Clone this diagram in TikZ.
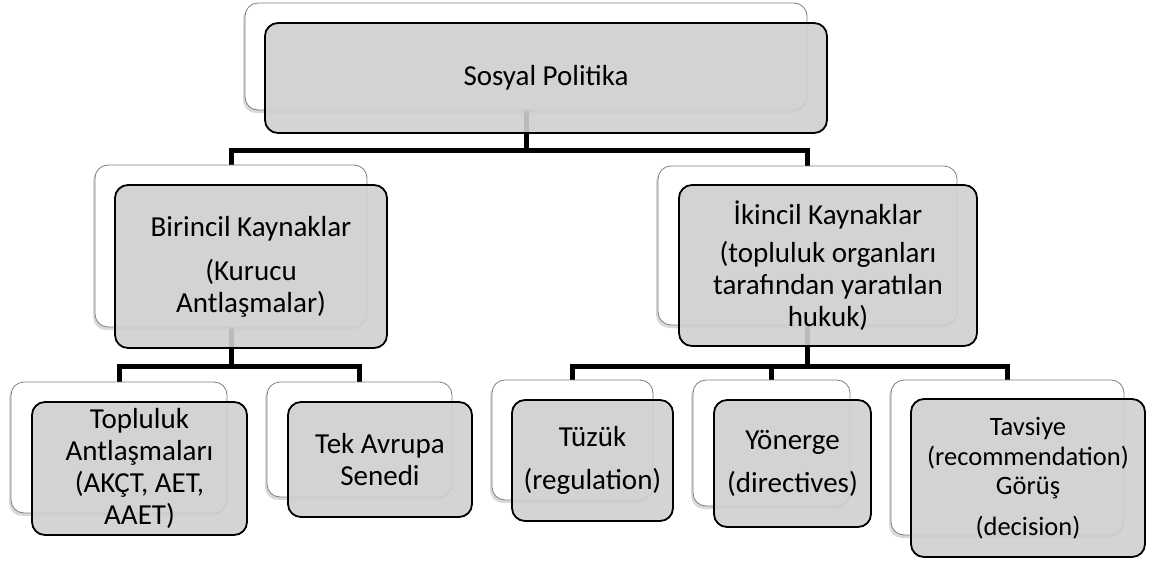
\documentclass[tikz,border=0pt]{standalone}
\usepackage{fontspec}
\setmainfont{Carlito}
\usetikzlibrary{positioning,shadows,backgrounds}
\definecolor{boxgray}{RGB}{207,207,207}
\definecolor{backline}{RGB}{125,125,125}

\begin{document}
\begin{tikzpicture}[
  x=1pt, y=-1pt,
  backbox/.style={draw=backline, line width=0.8pt, fill=white, rounded corners=13pt, inner sep=0pt,
    drop shadow={shadow xshift=-2pt, shadow yshift=-3pt, opacity=0.3}},
  frontbox/.style={draw=black, line width=1.8pt, fill=boxgray, fill opacity=0.9, text opacity=1,
    rounded corners=13pt, align=center, inner sep=0pt, font=\fontsize{29}{32}\selectfont},
  conn/.style={line width=5pt}
]
  \useasboundingbox (0,0) rectangle (1159,560);

  % Top level
  \node[backbox, minimum width=562pt, minimum height=107pt] (spb) at (526,56.5) {};
  \node[frontbox, minimum width=562pt, minimum height=110pt] (sp) at (546,78) {Sosyal Politika};

  % Second level
  \node[backbox, minimum width=272pt, minimum height=162pt] (birb) at (231,246) {};
  \node[frontbox, minimum width=272pt, minimum height=163pt] (bir) at (251,266.5)
    {Birincil Kaynaklar\\[12pt](Kurucu\\Antlaşmalar)};
  \node[backbox, minimum width=299pt, minimum height=159pt] (ikib) at (807.5,245.5) {};
  \node[frontbox, minimum width=298pt, minimum height=161pt] (iki) at (828,265.5)
    {İkincil Kaynaklar\\[6pt](topluluk organları\\tarafından yaratılan\\hukuk)};

  % Third level, left
  \node[backbox, minimum width=216pt, minimum height=131pt] (topb) at (119,447.5) {};
  \node[frontbox, minimum width=215pt, minimum height=133pt] (top) at (139.5,468.5)
    {Topluluk\\Antlaşmaları\\(AKÇT, AET,\\AAET)};
  \node[backbox, minimum width=185pt, minimum height=115pt] (tekb) at (359.5,439.5) {};
  \node[frontbox, minimum width=184pt, minimum height=115pt] (tek) at (380,459.5)
    {Tek Avrupa\\Senedi};

  % Third level, right
  \node[backbox, minimum width=161pt, minimum height=120pt] (tuzb) at (572.5,440) {};
  \node[frontbox, minimum width=161pt, minimum height=121pt] (tuz) at (592.5,460.5)
    {Tüzük\\[11pt](regulation)};
  \node[backbox, minimum width=157pt, minimum height=126pt] (yonb) at (771.5,443) {};
  \node[frontbox, minimum width=157pt, minimum height=127pt] (yon) at (792.5,463.5)
    {Yönerge\\[11pt](directives)};
  \node[backbox, minimum width=233pt, minimum height=155pt] (tavb) at (1007.5,457.5) {};
  \node[frontbox, minimum width=234pt, minimum height=158pt, font=\fontsize{26.5}{29.5}\selectfont] (tav) at (1028,478)
    {Tavsiye\\(recommendation)\\Görüş\\[11pt](decision)};

  % Connectors
  \begin{pgfonlayer}{background}
    \draw[conn] (spb.south) -- ++(0,40) coordinate (j1);
    \draw[conn] (birb.north) |- (j1) -| (ikib.north);
    \draw[conn] (birb.south) -- ++(0,39) coordinate (j2);
    \draw[conn] (topb.north) |- (j2) -| (tekb.north);
    \draw[conn] (ikib.south) -- ++(0,41) coordinate (j3);
    \draw[conn] (tuzb.north) |- (j3) -| (tavb.north);
    \draw[conn] (yonb.north) -- (yonb.north |- j3);
  \end{pgfonlayer}
\end{tikzpicture}
\end{document}
